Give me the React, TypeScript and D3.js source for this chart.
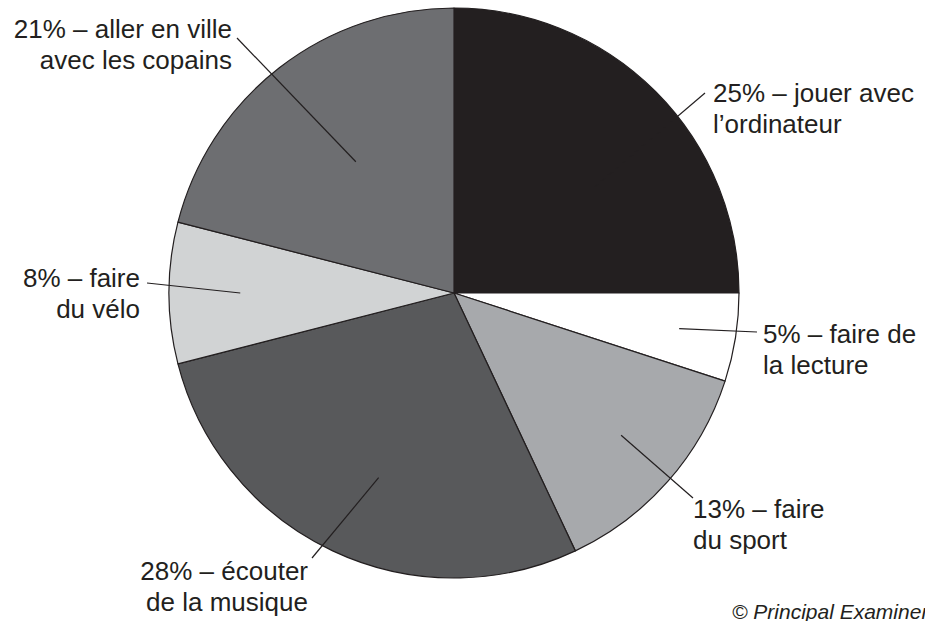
import React from "react";
import * as d3 from "d3";

// ---- data ----
const categories = [
  "jouer avec l’ordinateur",
  "faire de la lecture",
  "faire du sport",
  "écouter de la musique",
  "faire du vélo",
  "aller en ville avec les copains",
];
const values = [25, 5, 13, 28, 8, 21];
const labelLines: string[][] = [
  ["25% – jouer avec", "l’ordinateur"],
  ["5% – faire de", "la lecture"],
  ["13% – faire", "du sport"],
  ["28% – écouter", "de la musique"],
  ["8% – faire", "du vélo"],
  ["21% – aller en ville", "avec les copains"],
];
const credit = "© Principal Examiner";

// ---- styles / layout ----
const W = 925;
const H = 621;
const CX = 454;
const CY = 293;
const R = 285;
const colors = ["#231f20", "#ffffff", "#a7a9ac", "#58595b", "#d1d3d4", "#6d6e71"];
const ink = "#231f20";
const font = "'Liberation Sans', Arial, Helvetica, sans-serif";
const fontSize = 26;
const lineGap = 31;

// label layout: text anchor point, anchor, leader start (outer), leader inner radius factor, inner angle offset (deg)
const labelLayout = [
  { tx: 713, ty: 102, anchor: "start", lx: 705, ly: 93, rf: 0.62, da: 8 },
  { tx: 763, ty: 343, anchor: "start", lx: 757, ly: 332, rf: 0.8, da: 0 },
  { tx: 693, ty: 518, anchor: "start", lx: 693, ly: 498, rf: 0.77, da: -1 },
  { tx: 308, ty: 580, anchor: "end", lx: 312, ly: 558, rf: 0.7, da: -3 },
  { tx: 140, ty: 287, anchor: "end", lx: 147, ly: 283, rf: 0.75, da: 0 },
  { tx: 232, ty: 38, anchor: "end", lx: 237, ly: 38, rf: 0.575, da: 1 },
];

export default function App() {
  const pie = d3
    .pie<number>()
    .sort(null)
    .value((d) => d)
    .startAngle(0)
    .endAngle(2 * Math.PI);
  const arcs = pie(values);
  const arc = d3.arc<d3.PieArcDatum<number>>().innerRadius(0).outerRadius(R);

  return (
    <svg
      width={W}
      height={H}
      viewBox={`0 0 ${W} ${H}`}
      style={{ position: "absolute", left: 0, top: 0, background: "#fff" }}
    >
      <rect x={0} y={0} width={W} height={H} fill="#fff" />
      <g transform={`translate(${CX},${CY})`}>
        {arcs.map((a, i) => (
          <path
            key={categories[i]}
            d={arc(a) || ""}
            fill={colors[i]}
            stroke={ink}
            strokeWidth={1.2}
            strokeLinejoin="round"
          />
        ))}
      </g>
      {arcs.map((a, i) => {
        const L = labelLayout[i];
        const mid = (a.startAngle + a.endAngle) / 2 + (L.da * Math.PI) / 180;
        const ix = CX + Math.sin(mid) * R * L.rf;
        const iy = CY - Math.cos(mid) * R * L.rf;
        return (
          <g key={"lab" + i}>
            <line x1={L.lx} y1={L.ly} x2={ix} y2={iy} stroke={ink} strokeWidth={1.2} />
            <text
              x={L.tx}
              y={L.ty}
              textAnchor={L.anchor as any}
              fontFamily={font}
              fontSize={fontSize}
              fill={ink}
            >
              {labelLines[i].map((t, j) => (
                <tspan key={j} x={L.tx} y={L.ty + j * lineGap}>
                  {t}
                </tspan>
              ))}
            </text>
          </g>
        );
      })}
      <text
        x={732}
        y={619}
        fontFamily={font}
        fontStyle="italic"
        fontSize={21}
        fill={ink}
      >
        {credit}
      </text>
    </svg>
  );
}
